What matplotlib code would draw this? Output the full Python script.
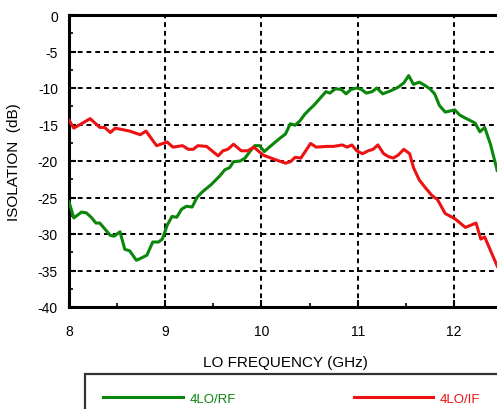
import matplotlib
matplotlib.use("Agg")
import matplotlib.pyplot as plt
from matplotlib.ticker import MultipleLocator

plt.rcParams["font.family"] = ["Liberation Sans", "DejaVu Sans"]
plt.rcParams["axes.unicode_minus"] = False

# 4LO/RF isolation (green)
freq_rf = [8.00, 8.05, 8.13, 8.18, 8.23, 8.28, 8.32, 8.43, 8.47, 8.53, 8.58, 8.63,
           8.70, 8.75, 8.81, 8.87, 8.93, 8.97, 9.02, 9.07, 9.12, 9.17, 9.22, 9.28,
           9.33, 9.38, 9.48, 9.57, 9.62, 9.67, 9.71, 9.78, 9.83, 9.88, 9.93, 9.98,
           10.03, 10.10, 10.19, 10.25, 10.30, 10.35, 10.40, 10.45, 10.51, 10.55,
           10.61, 10.67, 10.71, 10.77, 10.83, 10.88, 10.93, 10.99, 11.04, 11.09,
           11.15, 11.20, 11.26, 11.34, 11.42, 11.48, 11.53, 11.58, 11.64, 11.68,
           11.75, 11.80, 11.85, 11.91, 12.01, 12.06, 12.13, 12.22, 12.27, 12.32,
           12.38, 12.45]
iso_rf = [-25.6, -27.8, -27.0, -27.1, -27.7, -28.5, -28.5, -30.2, -30.3, -29.7, -32.1, -32.3,
          -33.6, -33.3, -32.9, -31.1, -31.1, -30.7, -28.8, -27.6, -27.7, -26.6, -26.2, -26.3,
          -25.0, -24.3, -23.2, -22.0, -21.2, -20.9, -20.1, -20.0, -19.6, -18.7, -17.9, -17.9,
          -18.7, -17.9, -16.9, -16.3, -14.9, -15.1, -14.5, -13.6, -12.8, -12.3,
          -11.4, -10.5, -10.7, -10.1, -10.2, -10.8, -10.2, -10.0, -10.2, -10.7,
          -10.5, -10.0, -10.8, -10.4, -9.9, -9.3, -8.3, -9.5, -9.2, -9.5,
          -10.1, -10.8, -12.4, -13.3, -13.0, -13.7, -14.2, -14.8, -16.0, -15.4,
          -17.7, -21.3]

# 4LO/IF isolation (red)
freq_if = [8.00, 8.05, 8.22, 8.32, 8.37, 8.43, 8.48, 8.63, 8.74, 8.80, 8.91, 9.02,
           9.08, 9.18, 9.24, 9.29, 9.34, 9.43, 9.55, 9.60, 9.65, 9.71, 9.79, 9.86,
           9.92, 10.02, 10.12, 10.25, 10.30, 10.35, 10.41, 10.51, 10.57, 10.68, 10.75,
           10.84, 10.89, 10.94, 10.99, 11.05, 11.11, 11.16, 11.21, 11.27, 11.32, 11.37,
           11.42, 11.48, 11.54, 11.58, 11.64, 11.70, 11.77, 11.83, 11.91, 12.01, 12.12,
           12.23, 12.28, 12.32, 12.45]
iso_if = [-14.4, -15.5, -14.2, -15.4, -15.4, -16.1, -15.5, -15.9, -16.4, -15.9, -17.9, -17.4,
          -18.1, -17.9, -18.4, -18.4, -17.9, -18.0, -19.3, -18.6, -18.4, -17.7, -18.6, -18.6,
          -18.1, -19.2, -19.7, -20.3, -20.1, -19.5, -19.6, -17.6, -18.1, -18.0, -18.0,
          -17.8, -18.1, -17.8, -18.6, -19.0, -18.6, -18.4, -17.8, -19.0, -19.4, -19.6,
          -19.2, -18.4, -19.0, -20.9, -22.6, -23.6, -24.7, -25.3, -27.2, -27.9, -29.1,
          -28.5, -30.7, -30.4, -34.4]

fig = plt.figure(figsize=(4.97, 4.10), dpi=100)
ax = fig.add_axes([69 / 497, 1 - 308 / 410, 433 / 497, 292 / 410])

ax.plot(freq_rf, iso_rf, color="#0a860a", lw=2.2, label="4LO/RF", zorder=3)
ax.plot(freq_if, iso_if, color="#ee1111", lw=2.2, label="4LO/IF", zorder=3)

ax.set_xlim(8, 12.5)
ax.set_ylim(-40, 0)
ax.xaxis.set_major_locator(MultipleLocator(1))
ax.xaxis.set_minor_locator(MultipleLocator(0.5))
ax.yaxis.set_major_locator(MultipleLocator(5))
ax.yaxis.set_minor_locator(MultipleLocator(2.5))
ax.tick_params(which="major", direction="in", length=5, width=1.5, labelsize=10)
ax.tick_params(which="minor", direction="in", length=3, width=1.2)
ax.tick_params(axis="x", pad=12)
ax.tick_params(axis="y", pad=8)
ax.grid(True, which="major", color="black", lw=1.4, linestyle=(0, (2.5, 2)))

for sp in ax.spines.values():
    sp.set_linewidth(2.2)
ax.spines["right"].set_visible(False)

ax.set_xlabel("LO FREQUENCY (GHz)", fontsize=11)
ax.set_ylabel("ISOLATION  (dB)", fontsize=11)
ax.xaxis.set_label_coords(0.5, -0.165)
ax.yaxis.set_label_coords(-0.11, 0.5)

leg = fig.legend(loc="upper left", bbox_to_anchor=(85 / 497, 1 - 375 / 410),
                 ncol=2, fontsize=9.5, handlelength=6.0, handletextpad=0.55,
                 columnspacing=8.9, borderpad=1.4, borderaxespad=0,
                 fancybox=False, labelcolor="linecolor")
leg.get_frame().set_edgecolor("black")
leg.get_frame().set_linewidth(1.6)

fig.savefig("out.png", dpi=100)
